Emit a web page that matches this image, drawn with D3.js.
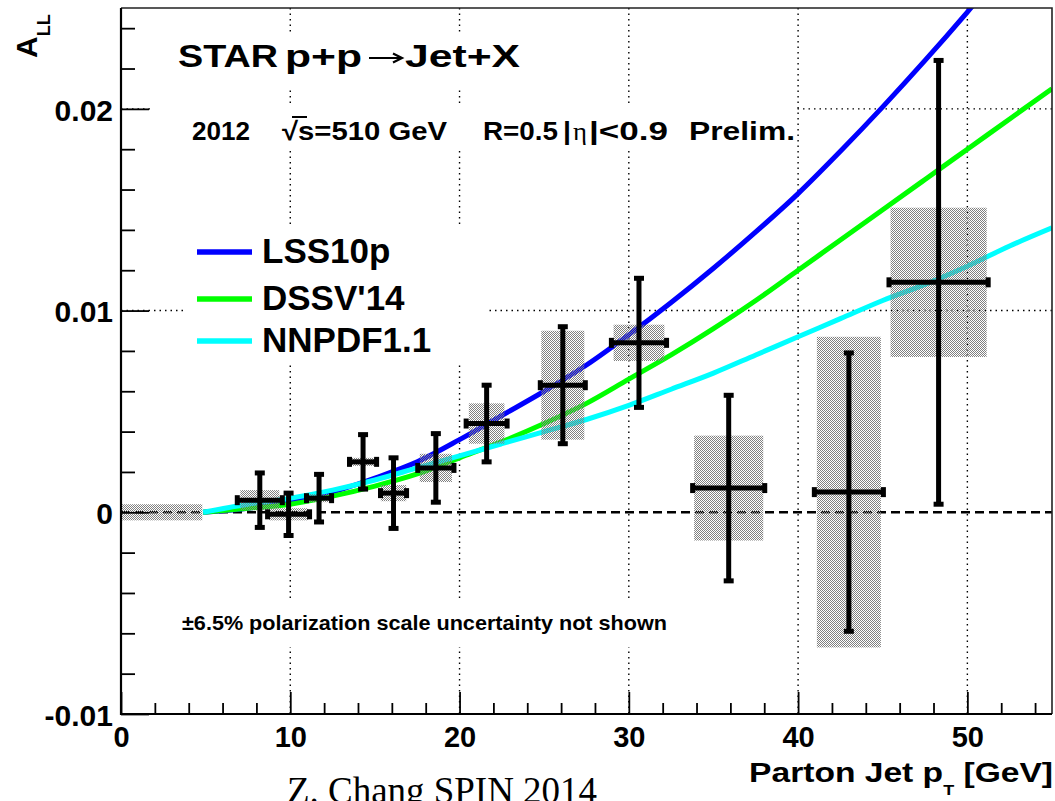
<!DOCTYPE html>
<html>
<head>
<meta charset="utf-8">
<script src="https://cdn.jsdelivr.net/npm/d3@7"></script>
<style>
  html, body { margin: 0; padding: 0; background: #fff; }
  svg { display: block; }
  text { font-family: "Liberation Sans", Arial, Helvetica, sans-serif; font-weight: bold; fill: #000; }
</style>
</head>
<body>
<svg id="chart" width="1055" height="801"></svg>
<script>
// ---------------- data ----------------
const pT        = [8.2, 9.9, 11.7, 14.3, 16.1, 18.6, 21.6, 26.1, 30.6, 35.9, 43.0, 48.3];
const ALL       = [0.0006, -0.0001, 0.0007, 0.0025, 0.00095, 0.0022, 0.0044, 0.0063, 0.0084, 0.0012, 0.0010, 0.0114];
const statErr   = [0.00135, 0.00105, 0.00118, 0.00135, 0.00175, 0.0017, 0.0019, 0.0029, 0.0032, 0.0046, 0.0069, 0.0110];
const pTErr     = [1.33, 1.24, 0.74, 0.80, 0.77, 1.07, 1.21, 1.33, 1.63, 2.13, 2.04, 2.93];
const sysErr    = [0.0005, 0.0003, 0.0002, 0.0002, 0.0004, 0.0007, 0.0010, 0.0027, 0.0009, 0.0026, 0.0077, 0.0037];
const sysPtErr  = [1.15, 1.15, 0.70, 0.75, 0.75, 0.95, 1.05, 1.27, 1.50, 2.04, 1.89, 2.84];

const lumiBandPt   = [0, 4.8];
const lumiBandHalf = 0.0004;

const curvePt  = [4.85, 7.5, 10, 12.5, 15, 17.5, 20, 22.5, 25, 27.5, 30, 32.5, 35, 37.5, 40, 42.5, 45, 47.5, 50, 52.5, 55];
const LSS10p   = [0, 0.0002, 0.0005, 0.0010, 0.0017, 0.0025, 0.0036, 0.0048, 0.0060, 0.0073, 0.0088, 0.0104, 0.0121, 0.0139, 0.0158, 0.0179, 0.0201, 0.0224, 0.0248, 0.0273, 0.0298];
const DSSV14   = [0, 0.0002, 0.0004, 0.0008, 0.0013, 0.0019, 0.0027, 0.0035, 0.0044, 0.0054, 0.0066, 0.0078, 0.0091, 0.0105, 0.0120, 0.0135, 0.0150, 0.0165, 0.0180, 0.0195, 0.0210];
const NNPDF11  = [0, 0.0004, 0.0007, 0.0011, 0.0016, 0.0022, 0.0028, 0.0034, 0.0040, 0.0046, 0.0053, 0.0061, 0.0069, 0.0078, 0.0087, 0.0096, 0.0105, 0.0113, 0.0122, 0.0132, 0.0141];

const seriesNames  = ["LSS10p", "DSSV'14", "NNPDF1.1"];
const seriesColors = ["#0000ff", "#00ff00", "#00ffff"];

const xMajorTicks = [0, 10, 20, 30, 40, 50];
const xTickLabels = ["0", "10", "20", "30", "40", "50"];
const yMajorTicks = [-0.01, 0, 0.01, 0.02];
const yTickLabels = ["-0.01", "0", "0.01", "0.02"];

// ---------------- layout ----------------
const svg = d3.select("#chart");
const L = 121, R = 1052, T = 8, B = 714;
const x = d3.scaleLinear().domain([0, 55]).range([L, R]);
const y = d3.scaleLinear().domain([-0.01, 0.025]).range([B, T]);

const defs = svg.append("defs");
const pat = defs.append("pattern").attr("id", "hatch").attr("width", 2).attr("height", 2)
  .attr("patternUnits", "userSpaceOnUse");
pat.append("rect").attr("x", 0).attr("y", 0).attr("width", 1).attr("height", 1).attr("fill", "#808080").attr("shape-rendering", "crispEdges");
pat.append("rect").attr("x", 1).attr("y", 1).attr("width", 1).attr("height", 1).attr("fill", "#808080").attr("shape-rendering", "crispEdges");
defs.append("clipPath").attr("id", "plotclip").append("rect")
  .attr("x", L).attr("y", T).attr("width", R - L).attr("height", B - T);

// grid
const grid = svg.append("g").attr("stroke", "#000").attr("stroke-width", 1.4).attr("stroke-dasharray", "1.5,4");
xMajorTicks.filter(v => v > 0).forEach(v => {
  grid.append("line").attr("x1", x(v)).attr("x2", x(v)).attr("y1", T).attr("y2", B);
});
[0.01, 0.02].forEach(v => {
  grid.append("line").attr("x1", L).attr("x2", R).attr("y1", y(v)).attr("y2", y(v));
});

// white text boxes (cover grid)
const boxes = [[152, 33, 545, 90], [152, 103, 796, 148], [185, 227, 488, 363], [153, 602, 715, 647]];
boxes.forEach(b => svg.append("rect").attr("x", b[0]).attr("y", b[1]).attr("width", b[2] - b[0]).attr("height", b[3] - b[1]).attr("fill", "#fff"));

// zero dashed line
svg.append("line").attr("x1", L).attr("x2", R).attr("y1", y(0)).attr("y2", y(0))
  .attr("stroke", "#000").attr("stroke-width", 2.6).attr("stroke-dasharray", "9,5");

// curves
const plot = svg.append("g").attr("clip-path", "url(#plotclip)");
const line = d3.line().curve(d3.curveMonotoneX).x((d, i) => x(curvePt[i])).y(d => y(d));
[LSS10p, DSSV14, NNPDF11].forEach((s, k) => {
  plot.append("path").attr("d", line(s)).attr("fill", "none")
    .attr("stroke", seriesColors[k]).attr("stroke-width", 5).attr("stroke-linejoin", "round");
});

// lumi band
plot.append("rect").attr("x", x(lumiBandPt[0])).attr("width", x(lumiBandPt[1]) - x(lumiBandPt[0]))
  .attr("y", y(lumiBandHalf)).attr("height", y(-lumiBandHalf) - y(lumiBandHalf)).attr("fill", "url(#hatch)");

// systematic boxes
plot.selectAll("rect.sys").data(pT).enter().append("rect").attr("class", "sys")
  .attr("x", (d, i) => x(d - sysPtErr[i]))
  .attr("width", (d, i) => x(d + sysPtErr[i]) - x(d - sysPtErr[i]))
  .attr("y", (d, i) => y(ALL[i] + sysErr[i]))
  .attr("height", (d, i) => y(ALL[i] - sysErr[i]) - y(ALL[i] + sysErr[i]))
  .attr("fill", "url(#hatch)");

// error bars
const eb = plot.append("g").attr("stroke", "#000").attr("stroke-width", 5);
pT.forEach((d, i) => {
  const cx = x(d), cy = y(ALL[i]);
  const y1 = y(ALL[i] - statErr[i]), y2 = y(ALL[i] + statErr[i]);
  const x1 = x(d - pTErr[i]), x2 = x(d + pTErr[i]);
  eb.append("line").attr("x1", cx).attr("x2", cx).attr("y1", y1).attr("y2", y2);
  eb.append("line").attr("x1", x1).attr("x2", x2).attr("y1", cy).attr("y2", cy);
  [y1, y2].forEach(yy => eb.append("line").attr("x1", cx - 5).attr("x2", cx + 5).attr("y1", yy).attr("y2", yy));
  [x1, x2].forEach(xx => eb.append("line").attr("x1", xx).attr("x2", xx).attr("y1", cy - 5).attr("y2", cy + 5));
});

// axes
const xMinor = d3.range(0, 55.1, 2).filter(v => v % 10 !== 0);
const yMinor = d3.range(-0.01, 0.0241, 0.002).filter(v => Math.abs(Math.round(v * 1000) % 10) !== 0);

const gx = svg.append("g").attr("transform", `translate(0,${B})`);
gx.call(d3.axisBottom(x).tickValues(xMajorTicks).tickSize(-22).tickPadding(12)
  .tickFormat((d, i) => xTickLabels[i]));
gx.append("g").call(d3.axisBottom(x).tickValues(xMinor).tickSize(-11).tickFormat(""));
gx.selectAll(".domain").remove();
gx.selectAll("line").attr("stroke", "#000").attr("stroke-width", 1.8);
gx.selectAll("text").attr("font-size", 29).attr("font-family", null).attr("fill", "#000")
  .attr("y", 33).attr("dy", null);

const gy = svg.append("g").attr("transform", `translate(${L},0)`);
gy.call(d3.axisLeft(y).tickValues(yMajorTicks).tickSize(-28).tickPadding(8)
  .tickFormat((d, i) => yTickLabels[i]));
gy.append("g").call(d3.axisLeft(y).tickValues(yMinor).tickSize(-14).tickFormat(""));
gy.selectAll(".domain").remove();
gy.selectAll("line").attr("stroke", "#000").attr("stroke-width", 1.8);
gy.selectAll("text").attr("font-size", 30).attr("font-family", null).attr("fill", "#000")
  .attr("x", -8).attr("dy", "0.38em");

// frame
svg.append("path").attr("d", `M${L},${T}H${R}V${B}`).attr("fill", "none").attr("stroke", "#222").attr("stroke-width", 1.6);
svg.append("path").attr("d", `M${L},${T}V${B}H${R}`).attr("fill", "none").attr("stroke", "#000").attr("stroke-width", 2.2);

// text helper
function txt(px, py, s, size, len, opts = {}) {
  const t = svg.append("text").attr("x", px).attr("y", py).attr("font-size", size).text(s);
  if (len) t.attr("textLength", len).attr("lengthAdjust", "spacingAndGlyphs");
  if (opts.family) t.style("font-family", opts.family).style("font-weight", "normal");
  return t;
}

// title
txt(178, 67, "STAR", 32, 100);
txt(285, 67, "p+p", 32, 77);
svg.append("path").attr("d", "M369,58H401M393,53.5L402,58L393,62.5")
  .attr("fill", "none").attr("stroke", "#000").attr("stroke-width", 2.2);
txt(405, 67, "Jet+X", 32, 115);

// second line
txt(192, 140, "2012", 26, 58);
txt(282, 140, "\u221As=510 GeV", 26, 165);
svg.append("line").attr("x1", 292).attr("x2", 307).attr("y1", 117).attr("y2", 117).attr("stroke", "#000").attr("stroke-width", 2);
txt(483, 140, "R=0.5", 26, 75);
txt(563, 140, "|", 26, 8);
txt(573, 140, "\u03B7", 26, 14).style("font-family", "'Liberation Serif', serif").style("font-weight", "normal");
txt(589, 140, "|<0.9", 26, 79);
txt(689, 140, "Prelim.", 26, 106);

// legend
[263, 310, 352].forEach((by, k) => {
  svg.append("line").attr("x1", 197).attr("x2", 252).attr("y1", by - 11).attr("y2", by - 11)
    .attr("stroke", seriesColors[k]).attr("stroke-width", 5.5);
  txt(262, by, seriesNames[k], 35);
});

// note
txt(182, 630, "\u00B16.5% polarization scale uncertainty not shown", 21, 485);

// y axis title
const yt = svg.append("text").attr("transform", "translate(37,58) rotate(-90)").attr("font-size", 30);
yt.append("tspan").text("A");
yt.append("tspan").attr("font-size", 18).attr("dy", 13).text("LL");

// x axis title
const xt = svg.append("g").attr("transform", "translate(1053,782) scale(1.2,1)");
const xtt = xt.append("text").attr("text-anchor", "end").attr("font-size", 28);
xtt.append("tspan").text("Parton Jet p");
xtt.append("tspan").attr("font-size", 15).attr("dy", 13).text("T");
xtt.append("tspan").attr("dy", -13).text(" [GeV]");

// footer
txt(287, 803, "Z. Chang SPIN 2014", 37, 310, { family: "'Liberation Serif', 'Times New Roman', serif" });
</script>
</body>
</html>
